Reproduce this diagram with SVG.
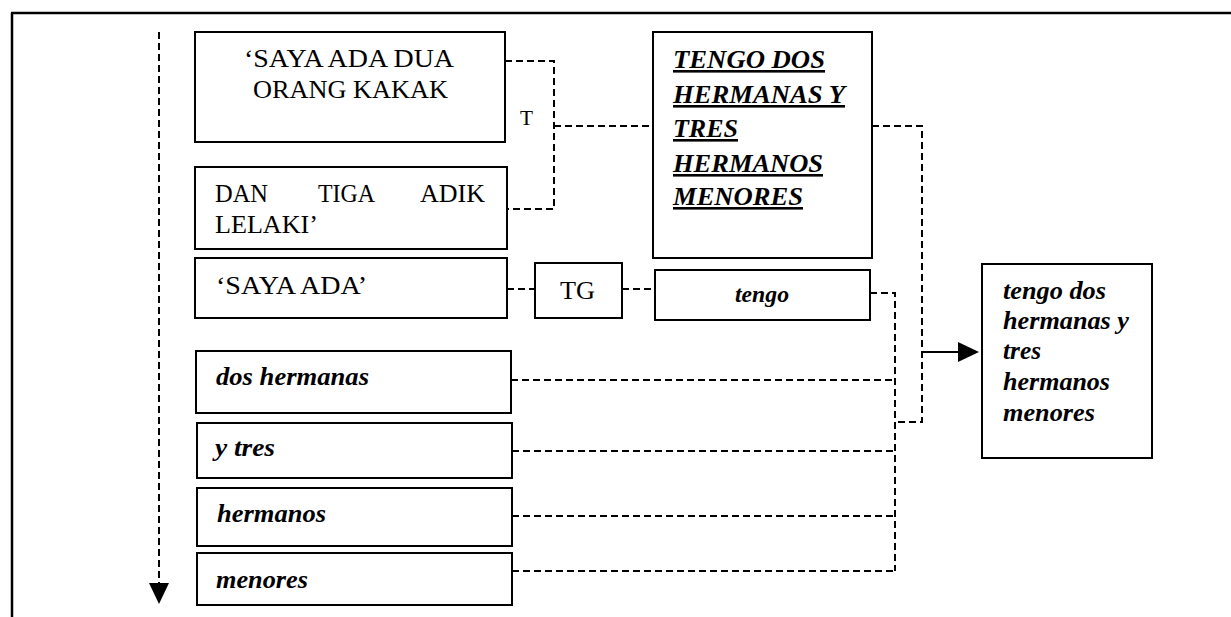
<svg xmlns="http://www.w3.org/2000/svg" width="1231" height="617" viewBox="0 0 1231 617">
<style>
.box{fill:#fff;stroke:#000;stroke-width:2}
.dash{fill:none;stroke:#000;stroke-width:2;stroke-dasharray:7 4}
.solid{fill:none;stroke:#000;stroke-width:2}
.r{font-family:'Liberation Serif',Tinos,'Times New Roman',Times,serif;font-size:25px;fill:#000}
.bi{font-family:'Liberation Serif',Tinos,'Times New Roman',Times,serif;font-size:26px;font-weight:bold;font-style:italic;fill:#000}
.u{text-decoration:underline}
</style>
<rect width="1231" height="617" fill="#fff"/>
<g id="frame">
<path d="M11,13 H1231 M12,13 V617" fill="none" stroke="#000" stroke-width="2.5"/>
</g>
<g id="connectors">
<path class="dash" d="M159,32 V585"/>
<polygon points="149,583 169,583 159,604" fill="#000"/>
<path class="dash" d="M505,61 H554 V209 H507"/>
<path class="dash" d="M554,126 H653"/>
<path class="dash" d="M507,289 H535"/>
<path class="dash" d="M622,289 H655"/>
<path class="dash" d="M872,126 H922 V422 H895"/>
<path class="dash" d="M870,293 H895 V571"/>
<path class="dash" d="M511,380 H895"/>
<path class="dash" d="M512,451 H895"/>
<path class="dash" d="M512,516 H895"/>
<path class="dash" d="M512,571 H895"/>
<path class="solid" d="M922,352 H960"/>
<polygon points="958,342 979,352 958,362" fill="#000"/>
<text class="r" x="520" y="125" style="font-size:20px" textLength="13" lengthAdjust="spacingAndGlyphs">T</text>
</g>
<g id="n-saya-dua">
<rect class="box" x="195" y="32" width="310" height="110"/>
<text class="r" x="244" y="67" textLength="210" lengthAdjust="spacingAndGlyphs">‘SAYA ADA DUA</text>
<text class="r" x="253" y="98" textLength="195" lengthAdjust="spacingAndGlyphs">ORANG KAKAK</text>
</g>
<g id="n-dan-tiga">
<rect class="box" x="195" y="167" width="312" height="82"/>
<text class="r" x="215" y="202" textLength="53" lengthAdjust="spacingAndGlyphs">DAN</text>
<text class="r" x="318" y="202" textLength="57" lengthAdjust="spacingAndGlyphs">TIGA</text>
<text class="r" x="420" y="202" textLength="65" lengthAdjust="spacingAndGlyphs">ADIK</text>
<text class="r" x="215" y="233" textLength="103" lengthAdjust="spacingAndGlyphs">LELAKI’</text>
</g>
<g id="n-tengo-upper">
<rect class="box" x="653" y="32" width="219" height="226"/>
<text class="bi u" x="673" y="68" textLength="152" lengthAdjust="spacingAndGlyphs">TENGO DOS</text>
<text class="bi u" x="673" y="103" textLength="172" lengthAdjust="spacingAndGlyphs">HERMANAS Y</text>
<text class="bi u" x="673" y="137" textLength="65" lengthAdjust="spacingAndGlyphs">TRES</text>
<text class="bi u" x="673" y="172" textLength="150" lengthAdjust="spacingAndGlyphs">HERMANOS</text>
<text class="bi u" x="673" y="205" textLength="130" lengthAdjust="spacingAndGlyphs">MENORES</text>
</g>
<g id="n-saya-ada">
<rect class="box" x="195" y="258" width="312" height="60"/>
<text class="r" x="216" y="294" textLength="151" lengthAdjust="spacingAndGlyphs">‘SAYA ADA’</text>
</g>
<g id="n-tg">
<rect class="box" x="535" y="263" width="87" height="55"/>
<text class="r" x="560" y="299" textLength="35" lengthAdjust="spacingAndGlyphs">TG</text>
</g>
<g id="n-tengo">
<rect class="box" x="655" y="270" width="215" height="50"/>
<text class="bi" x="735" y="302" style="font-size:24px" textLength="54" lengthAdjust="spacingAndGlyphs">tengo</text>
</g>
<g id="n-result">
<rect class="box" x="982" y="264" width="170" height="194"/>
<text class="bi" x="1003" y="299" textLength="103" lengthAdjust="spacingAndGlyphs">tengo dos</text>
<text class="bi" x="1003" y="329" textLength="126" lengthAdjust="spacingAndGlyphs">hermanas y</text>
<text class="bi" x="1003" y="359" textLength="38" lengthAdjust="spacingAndGlyphs">tres</text>
<text class="bi" x="1003" y="390" textLength="107" lengthAdjust="spacingAndGlyphs">hermanos</text>
<text class="bi" x="1003" y="421" textLength="92" lengthAdjust="spacingAndGlyphs">menores</text>
</g>
<g id="n-dos-hermanas">
<rect class="box" x="196" y="351" width="315" height="62"/>
<text class="bi" x="216" y="385" textLength="153" lengthAdjust="spacingAndGlyphs">dos hermanas</text>
</g>
<g id="n-y-tres">
<rect class="box" x="197" y="423" width="315" height="55"/>
<text class="bi" x="215" y="456" textLength="60" lengthAdjust="spacingAndGlyphs">y tres</text>
</g>
<g id="n-hermanos">
<rect class="box" x="197" y="488" width="315" height="58"/>
<text class="bi" x="217" y="522" textLength="109" lengthAdjust="spacingAndGlyphs">hermanos</text>
</g>
<g id="n-menores">
<rect class="box" x="197" y="553" width="315" height="52"/>
<text class="bi" x="216" y="588" textLength="92" lengthAdjust="spacingAndGlyphs">menores</text>
</g>
</svg>
